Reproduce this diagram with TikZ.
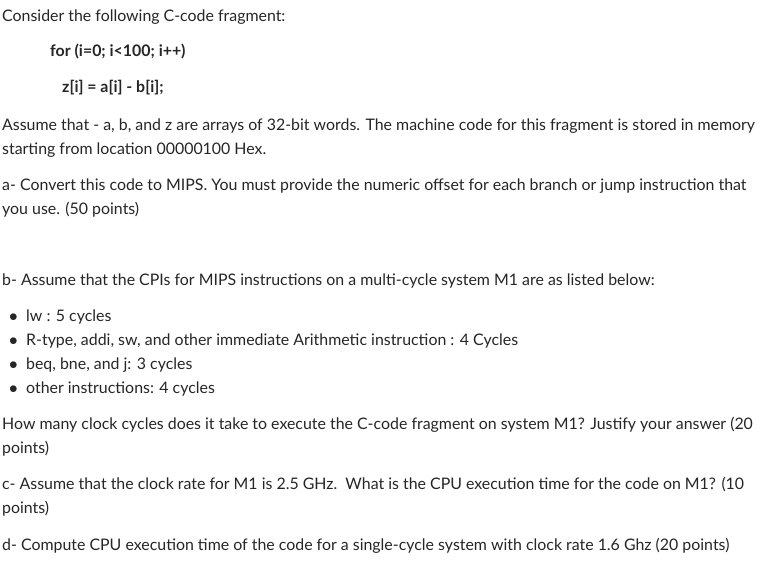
\documentclass[tikz,border=0pt]{standalone}
\usepackage{fontspec}
\setmainfont{Lato}
\begin{document}
\begin{tikzpicture}[x=1pt,y=-1pt,
  txt/.style={anchor=mid west,inner sep=0pt,font=\fontsize{15.9}{18}\selectfont,text=black!85},
  code/.style={txt,font=\fontsize{15.9}{18}\selectfont\bfseries}]
\useasboundingbox[fill=white] (0,0) rectangle (767,562);
\node[txt] (l1) at (2,19) {Consider the following C-code fragment:};
\node[code] (c1) at (50,54) {for (i=0; i<100; i++)};
\node[code] (c2) at (62,90) {z[i] = a[i] - b[i];};
\node[txt] (l2) at (2,128) {Assume that - a, b, and z are arrays of 32-bit words. The machine code for this fragment is stored in memory};
\node[txt] (l3) at (2,152) {starting from location 00000100 Hex.};
\node[txt] (l4) at (2,188) {a- Convert this code to MIPS. You must provide the numeric offset for each branch or jump instruction that};
\node[txt] (l5) at (2,212) {you use. (50 points)};
\node[txt] (l6) at (2,283) {b- Assume that the CPIs for MIPS instructions on a multi-cycle system M1 are as listed below:};
\foreach \y/\t [count=\i] in {319/{lw : 5 cycles},343/{R-type, addi, sw, and other immediate Arithmetic instruction : 4 Cycles},367/{beq, bne, and j: 3 cycles},391/{other instructions: 4 cycles}}{
  \node[txt] (b\i) at (9,\y) {$\bullet$};
  \node[txt] (t\i) at (26,\y) {\t};
}
\node[txt] (l7) at (2,427) {How many clock cycles does it take to execute the C-code fragment on system M1? Justify your answer (20};
\node[txt] (l8) at (2,451) {points)};
\node[txt] (l9) at (2,487) {c- Assume that the clock rate for M1 is 2.5 GHz.\ \ What is the CPU execution time for the code on M1? (10};
\node[txt] (l10) at (2,511) {points)};
\node[txt] (l11) at (2,548) {d- Compute CPU execution time of the code for a single-cycle system with clock rate 1.6 Ghz (20 points)};
\end{tikzpicture}
\end{document}
